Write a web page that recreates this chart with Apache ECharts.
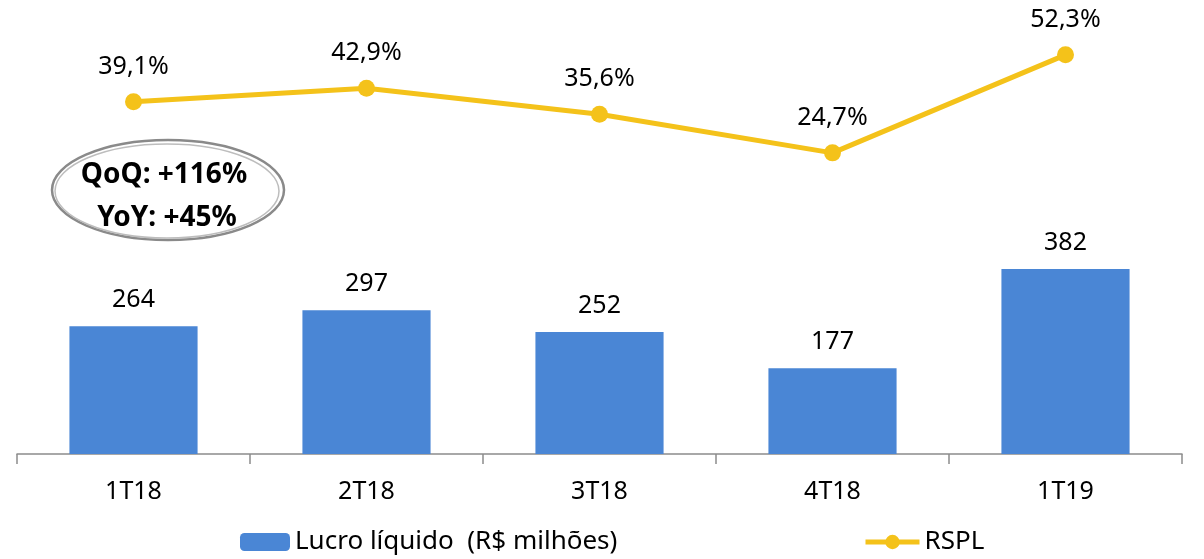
<!DOCTYPE html>
<html>
<head>
<meta charset="utf-8">
<script src="https://cdn.jsdelivr.net/npm/echarts@6/dist/echarts.min.js"></script>
<style>
  html, body {margin: 0; padding: 0; background: #fff;}
  #chart {width: 1204px; height: 559px;}
</style>
</head>
<body>
<div id="chart"></div>
<script>
(function(){
  'use strict';

  /*
    dados do gráfico
  */
  var quarters = ['1T18', '2T18', '3T18', '4T18', '1T19'],
      lucro    = [264, 297, 252, 177, 382],
      rspl     = [39.1, 42.9, 35.6, 24.7, 52.3],
      noteText = ['QoQ: +116%', 'YoY: +45%'];

  var barColor  = '#4A86D5',
      lineColor = '#F4C21A',
      font      = 'Noto Sans';

  var pct = function(v){
    return v.toFixed(1).replace('.', ',') + '%';
  };

  var chart = echarts.init(document.getElementById('chart'));

  chart.setOption({
    animation: false,
    textStyle: {fontFamily: font},
    grid: {left: 17, right: 22, top: 30, bottom: 105},
    legend: [{
      left: 235, top: 524,
      itemWidth: 50, itemHeight: 18, itemGap: 6,
      textStyle: {fontSize: 26, color: '#000', fontFamily: font},
      data: ['Lucro líquido  (R$ milhões)']
    }, {
      left: 858, top: 524,
      itemWidth: 54, itemHeight: 18,
      textStyle: {fontSize: 26, color: '#000', fontFamily: font},
      itemStyle: {color: lineColor},
      lineStyle: {color: lineColor, width: 5},
      data: ['RSPL']
    }],
    xAxis: {
      type: 'category',
      data: quarters,
      axisLine: {lineStyle: {color: '#8c8c8c', width: 1.5}},
      axisTick: {show: true, length: 10, lineStyle: {color: '#8c8c8c', width: 1.5}},
      axisLabel: {fontSize: 25, color: '#000', margin: 25}
    },
    yAxis: [
      {type: 'value', min: 0, max: 876, show: false},
      {type: 'value', min: -60.1, max: 59.3, show: false}
    ],
    series: [{
      name: 'Lucro líquido  (R$ milhões)',
      type: 'bar',
      yAxisIndex: 0,
      data: lucro,
      barWidth: '55%',
      itemStyle: {color: barColor},
      label: {
        show: true, position: 'top', distance: 14,
        fontSize: 25, color: '#000'
      }
    }, {
      name: 'RSPL',
      type: 'line',
      yAxisIndex: 1,
      data: rspl,
      clip: false,
      symbol: 'circle',
      symbolSize: 17,
      lineStyle: {color: lineColor, width: 5},
      itemStyle: {color: lineColor},
      label: {
        show: true, position: 'top', distance: 14,
        fontSize: 25, color: '#000',
        formatter: function(p){ return pct(p.value); }
      }
    }],
    graphic: [{
      type: 'ellipse',
      shape: {cx: 168, cy: 190, rx: 116, ry: 50},
      style: {fill: 'none', stroke: '#8a8a8a', lineWidth: 2.5}
    }, {
      type: 'ellipse',
      shape: {cx: 167, cy: 191, rx: 112, ry: 47},
      style: {fill: 'none', stroke: '#bdbdbd', lineWidth: 1.5}
    }, {
      type: 'text',
      style: {
        x: 164, y: 175, text: noteText[0], align: 'center', verticalAlign: 'middle',
        font: 'bold 28px "Noto Sans"', fill: '#000'
      }
    }, {
      type: 'text',
      style: {
        x: 167, y: 218, text: noteText[1], align: 'center', verticalAlign: 'middle',
        font: 'bold 28px "Noto Sans"', fill: '#000'
      }
    }]
  });
})();
</script>
</body>
</html>
